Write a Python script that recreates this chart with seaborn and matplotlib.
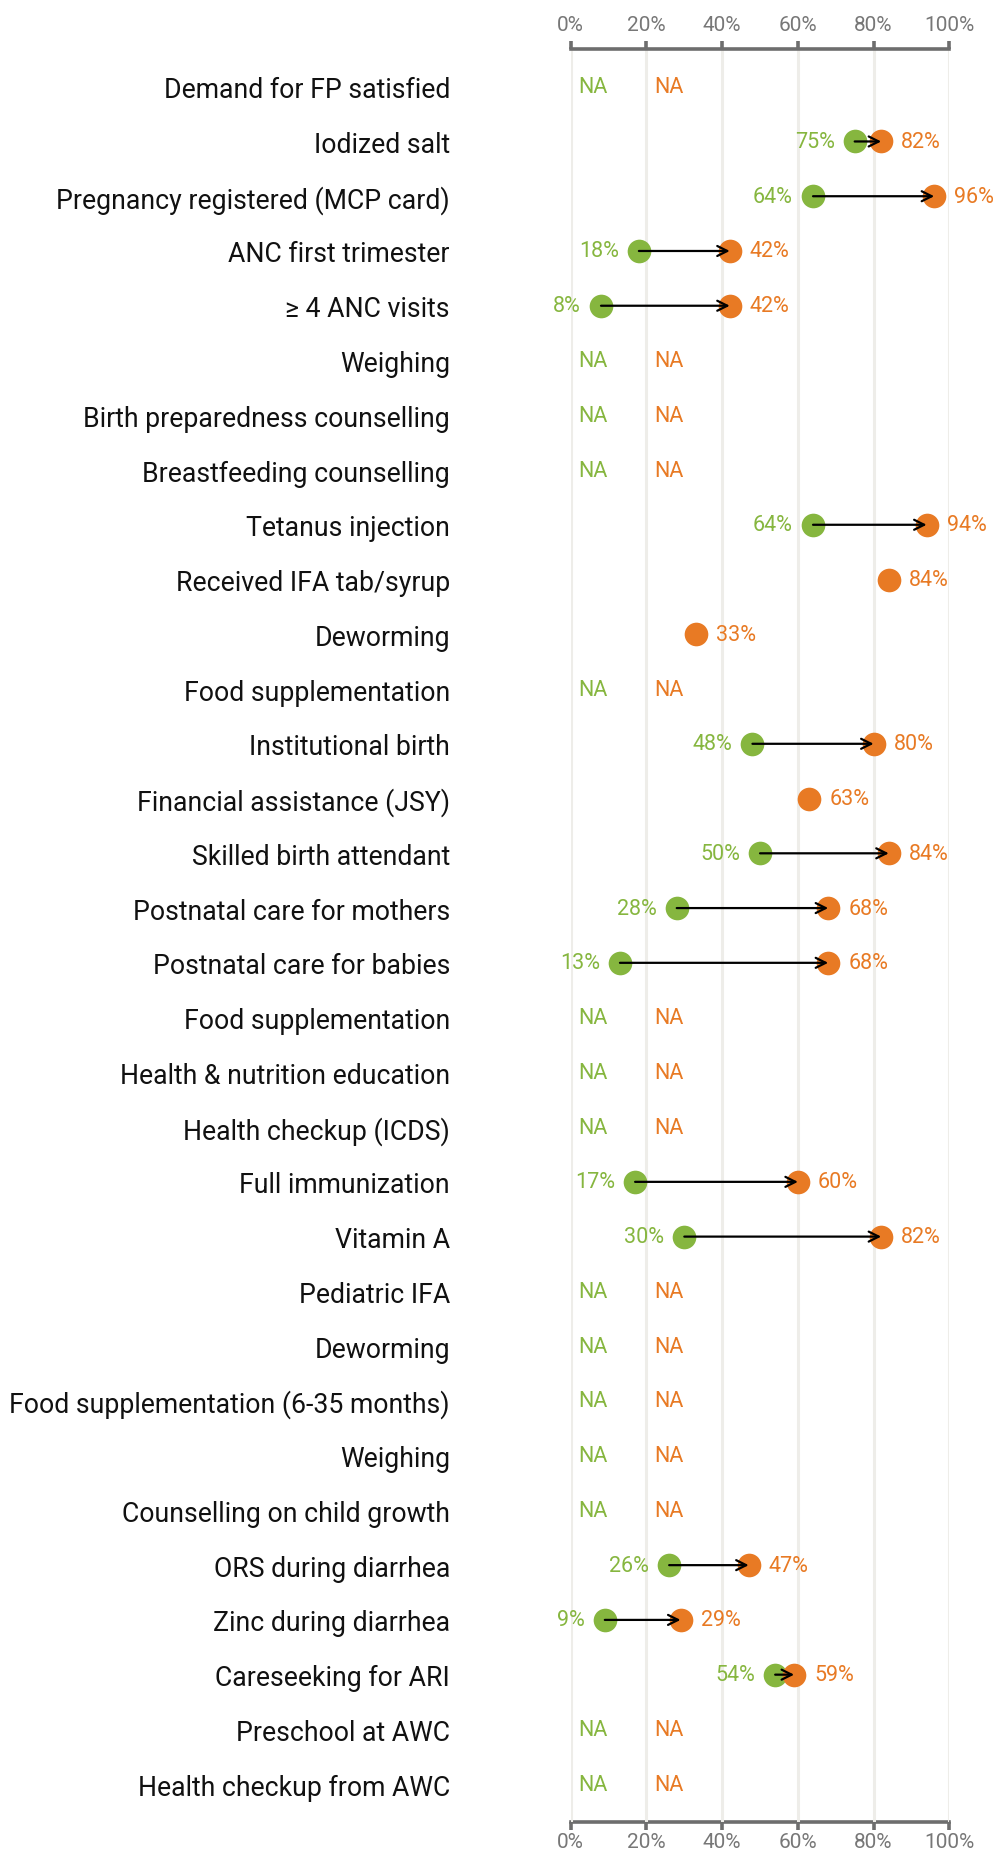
import matplotlib
matplotlib.use("Agg")
import matplotlib.pyplot as plt
import pandas as pd
import seaborn as sns

# Indicators, top to bottom
labels = [
    "Demand for FP satisfied", "Iodized salt", "Pregnancy registered (MCP card)",
    "ANC first trimester", "≥ 4 ANC visits", "Weighing",
    "Birth preparedness counselling", "Breastfeeding counselling",
    "Tetanus injection", "Received IFA tab/syrup", "Deworming",
    "Food supplementation", "Institutional birth", "Financial assistance (JSY)",
    "Skilled birth attendant", "Postnatal care for mothers",
    "Postnatal care for babies", "Food supplementation",
    "Health & nutrition education", "Health checkup (ICDS)",
    "Full immunization", "Vitamin A", "Pediatric IFA", "Deworming",
    "Food supplementation (6-35 months)", "Weighing",
    "Counselling on child growth", "ORS during diarrhea",
    "Zinc during diarrhea", "Careseeking for ARI", "Preschool at AWC",
    "Health checkup from AWC",
]
# earlier survey (green) and later survey (orange); None = no value, "NA" = not available
before = ["NA", 75, 64, 18, 8, "NA", "NA", "NA", 64, None, None, "NA", 48, None,
          50, 28, 13, "NA", "NA", "NA", 17, 30, "NA", "NA", "NA", "NA", "NA",
          26, 9, 54, "NA", "NA"]
after = ["NA", 82, 96, 42, 42, "NA", "NA", "NA", 94, 84, 33, "NA", 80, 63,
         84, 68, 68, "NA", "NA", "NA", 60, 82, "NA", "NA", "NA", "NA", "NA",
         47, 29, 59, "NA", "NA"]
xticks = [0, 20, 40, 60, 80, 100]
xticklabels = ["0%", "20%", "40%", "60%", "80%", "100%"]

green = "#86b63f"
orange = "#e87a24"
axis_gray = "#6d6d6d"

sns.set_theme(style="white")
plt.rcParams["font.family"] = ["Roboto", "DejaVu Sans"]

fig = plt.figure(figsize=(9.95, 18.56), dpi=100)
ax = fig.add_axes([0.5736, 0.0178, 0.3805, 0.9553])

rows = list(range(len(labels)))
num = lambda v: v if isinstance(v, (int, float)) else None
df = pd.DataFrame({"row": rows,
                   "b": [num(v) for v in before],
                   "a": [num(v) for v in after]})

# arrows first, dots on top
for r, b, a in zip(rows, df["b"], df["a"]):
    if pd.notna(b) and pd.notna(a):
        ax.annotate("", xy=(a, r), xytext=(b, r),
                    arrowprops=dict(arrowstyle="->", color="black", lw=1.6,
                                    mutation_scale=18, shrinkA=0, shrinkB=0),
                    zorder=4)

sns.scatterplot(data=df.dropna(subset=["b"]), x="b", y="row", color=green,
                s=290, linewidth=0, ax=ax, zorder=3, clip_on=False)
sns.scatterplot(data=df.dropna(subset=["a"]), x="a", y="row", color=orange,
                s=290, linewidth=0, ax=ax, zorder=3, clip_on=False)

for r, b, a in zip(rows, before, after):
    if b == "NA":
        ax.text(2, r, "NA", color=green, fontsize=15.5, ha="left", va="center")
    elif b is not None:
        ax.annotate(f"{b}%", (b, r), xytext=(-14.5, 0), textcoords="offset points",
                    ha="right", va="center", color=green, fontsize=15.5)
    if a == "NA":
        ax.text(22, r, "NA", color=orange, fontsize=15.5, ha="left", va="center")
    elif a is not None:
        ax.annotate(f"{a}%", (a, r), xytext=(14.5, 0), textcoords="offset points",
                    ha="left", va="center", color=orange, fontsize=15.5)

ax.set_xlim(0, 100)
ax.set_ylim(len(labels) - 1 + 0.69, -0.69)
ax.set_xticks(xticks)
ax.set_xticklabels(xticklabels)
ax.set_yticks(rows)
ax.set_yticklabels(labels)
ax.set_xlabel("")
ax.set_ylabel("")

ax.grid(axis="x", color="#eeede9", linewidth=2.2, zorder=0)
ax.set_axisbelow(True)
for s in ["left", "right", "bottom"]:
    ax.spines[s].set_visible(False)
ax.spines["top"].set_color(axis_gray)
ax.spines["top"].set_linewidth(2.6)

ax.tick_params(axis="x", top=True, labeltop=True, bottom=False, labelbottom=False,
               direction="out", length=6, width=2.6, color=axis_gray,
               labelcolor="#777777", labelsize=15, pad=5)
ax.tick_params(axis="y", length=0, pad=87, labelsize=19.2, labelcolor="#111111")

# bottom axis with its own (tighter) label spacing
sec = ax.secondary_xaxis("bottom")
sec.set_xticks(xticks)
sec.set_xticklabels(xticklabels)
sec.spines["bottom"].set_color(axis_gray)
sec.spines["bottom"].set_linewidth(2.6)
sec.tick_params(axis="x", direction="out", length=6, width=2.6, color=axis_gray,
                labelcolor="#777777", labelsize=15, pad=1.5)

fig.savefig("out.png", dpi=100)
plt.close()
